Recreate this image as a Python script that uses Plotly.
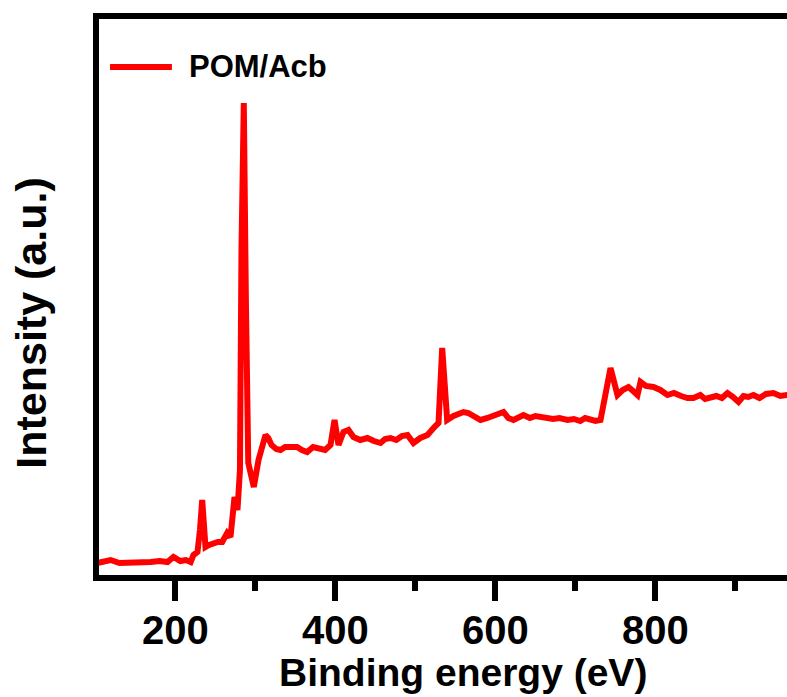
import plotly.graph_objects as go

# Binding energy (eV) and intensity (a.u.)
binding_energy = [102, 110, 119, 130, 144, 156, 169, 180, 190, 197.5, 206, 213, 219, 222.5,
                  227.5, 230.6, 233.4, 235.6, 237.5, 242, 247.5, 253, 258.4, 264.6, 268.8,
                  273.8, 277.5, 280.6, 282.5, 285.4, 288, 291, 297.9, 303.8, 312.5, 316,
                  320, 326, 331.3, 337, 343.8, 352, 358, 364.6, 372, 381.3, 387, 393.8,
                  398.8, 403.8, 410, 416.3, 422.5, 431, 440, 448, 456.3, 462, 468.8, 476,
                  483, 490, 497.5, 506, 515, 522.5, 528.8, 533.4, 539.6, 547.5, 553, 560,
                  566, 572.5, 581.3, 590, 600, 610, 616, 622.5, 635, 643, 650, 658, 665,
                  672, 680, 690, 698, 706, 712, 718.8, 725, 731.3, 735, 739, 743.8, 748,
                  752.5, 759, 766.3, 772, 777.5, 781.3, 788, 797.5, 806, 815, 823, 832,
                  840, 847.5, 856, 862, 868.8, 876, 883, 890, 897, 903.8, 910, 916, 922.5,
                  930, 938, 947.5, 956, 965]
intensity = [15, 17, 18, 15, 15, 16, 16, 17, 16, 21, 17, 18, 16, 23,
             26, 48, 78, 53, 31, 33, 35, 36, 36, 45, 41,
             81, 68, 108, 328, 475, 278, 115, 91, 118, 143, 140,
             133, 129, 128, 131, 131, 131, 128, 126, 131, 130, 128, 133,
             158, 133, 146, 148, 141, 138, 140, 137, 135, 139, 140, 138,
             142, 143, 135, 140, 143, 150, 155, 230, 158, 162, 164, 166,
             165, 162, 158, 160, 163, 166, 160, 158, 163, 160, 162, 161, 161,
             159, 160, 158, 159, 157, 160, 158, 157, 158, 171, 190, 210, 195,
             183, 188, 191, 187, 183, 196, 192, 191, 188, 183, 185, 182,
             180, 180, 183, 179, 181, 182, 180, 185, 181, 176, 182, 181, 183,
             180, 184, 185, 182, 183]

series_name = "POM/Acb"
x_title = "Binding energy (eV)"
y_title = "Intensity (a.u.)"
x_range = [104.4, 964.4]
y_range = [3, 559]

FONT = "Liberation Sans, Arial, sans-serif"
RED = "#FF0000"

fig = go.Figure()
fig.add_trace(go.Scatter(x=binding_energy, y=intensity, mode="lines", name=series_name,
                         line=dict(color=RED, width=6), showlegend=False))

fig.update_layout(
    width=787, height=697,
    margin=dict(l=99, r=0, t=19, b=122),
    paper_bgcolor="white", plot_bgcolor="white",
    font=dict(family=FONT, color="black"),
    xaxis=dict(range=x_range, showgrid=False, zeroline=False,
               showline=True, linewidth=6, linecolor="black", mirror=True,
               ticks="outside", ticklen=20, tickwidth=6, tickcolor="black",
               tick0=0, dtick=200, ticklabelstandoff=-5,
               tickfont=dict(family=FONT, size=40, weight="bold", color="black"),
               minor=dict(ticks="outside", ticklen=10, tickwidth=6, tickcolor="black",
                          tick0=0, dtick=100, showgrid=False)),
    yaxis=dict(range=y_range, showgrid=False, zeroline=False,
               showline=True, linewidth=6, linecolor="black", mirror=False,
               ticks="", showticklabels=False),
    shapes=[dict(type="line", xref="paper", yref="paper",
                 x0=0.016, x1=0.106, y0=0.9137, y1=0.9137,
                 line=dict(color=RED, width=6))],
    annotations=[
        dict(text=series_name, xref="paper", yref="paper", x=0.1275, y=0.914,
             xanchor="left", yanchor="middle", showarrow=False,
             font=dict(family=FONT, size=31, weight="bold", color="black")),
        dict(text=x_title, xref="paper", yref="paper", x=0.529, y=-0.1745,
             xanchor="center", yanchor="middle", showarrow=False,
             font=dict(family=FONT, size=39, weight="bold", color="black")),
        dict(text=y_title, xref="paper", yref="paper", x=-0.1, y=0.4523,
             xanchor="center", yanchor="middle", showarrow=False, textangle=-90,
             font=dict(family=FONT, size=43, weight="bold", color="black")),
    ],
)

fig.write_html("out.html")
